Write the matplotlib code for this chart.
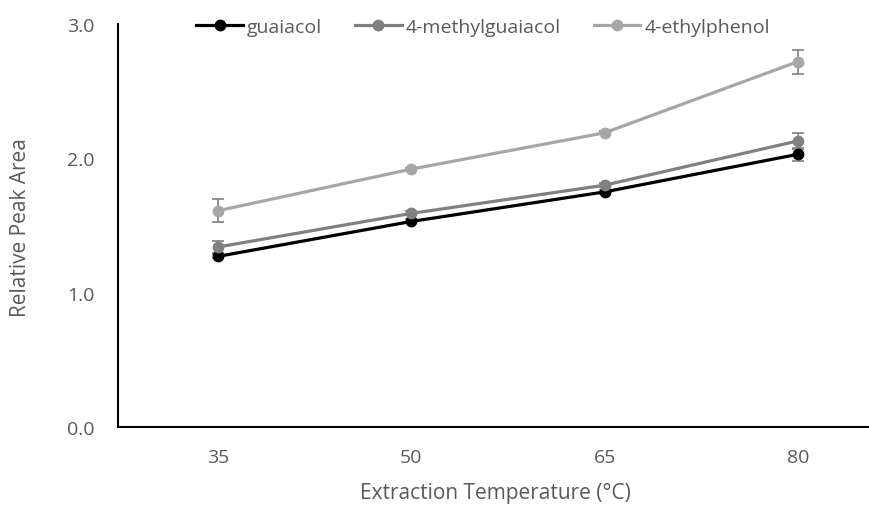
import matplotlib
matplotlib.use("Agg")
import matplotlib.pyplot as plt

categories = ["35", "50", "65", "80"]
series_names = ["guaiacol", "4-methylguaiacol", "4-ethylphenol"]
guaiacol = [1.27, 1.53, 1.75, 2.03]
guaiacol_err = [0.015, 0.015, 0.015, 0.05]
methylguaiacol = [1.34, 1.59, 1.80, 2.13]
methylguaiacol_err = [0.045, 0.015, 0.015, 0.06]
ethylphenol = [1.61, 1.92, 2.19, 2.72]
ethylphenol_err = [0.085, 0.01, 0.01, 0.09]
y_ticks = [0.0, 1.0, 2.0, 3.0]

colors = ["#000000", "#808080", "#A6A6A6"]
text_color = "#595959"
plt.rcParams["font.family"] = ["Open Sans", "DejaVu Sans"]

fig = plt.figure(figsize=(8.69, 5.06), dpi=100)
W, H = 869, 506
left, right_px, top, bottom = 118, 869, 25, 428
ax = fig.add_axes([left / W, 1 - bottom / H, (right_px - left) / W, (bottom - top) / H])

x = list(range(len(categories)))
for vals, errs, name, c in zip([guaiacol, methylguaiacol, ethylphenol],
                               [guaiacol_err, methylguaiacol_err, ethylphenol_err],
                               series_names, colors):
    ax.errorbar(x, vals, yerr=errs, color=c, ecolor="#7f7f7f", elinewidth=1.2,
                capsize=4.5, capthick=1.2, lw=2.3, marker="o", markersize=7.5,
                label=name, zorder=3)

ax.set_xlim(-0.5173, 3.3678)
ax.set_ylim(0, 3.0)
ax.set_yticks(y_ticks)
ax.set_yticklabels([f"{v:.1f}" for v in y_ticks])
ax.set_xticks(x)
ax.set_xticklabels(categories)
ax.tick_params(axis="both", length=0, labelsize=14, labelcolor=text_color)
ax.tick_params(axis="y", pad=17)
ax.tick_params(axis="x", pad=15)
for s in ["top", "right"]:
    ax.spines[s].set_visible(False)
for s in ["left", "bottom"]:
    ax.spines[s].set_linewidth(1.5)
    ax.spines[s].set_color("black")

ax.set_xlabel("Extraction Temperature (°C)", fontsize=15, color=text_color)
ax.set_ylabel("Relative Peak Area", fontsize=15, color=text_color)
ax.xaxis.set_label_coords((495 - left) / (right_px - left), -(494 - bottom) / (bottom - top))
ax.yaxis.set_label_coords(-(118 - 21) / (right_px - left), 0.5 - (228 - 226.5) / (bottom - top))
ax.yaxis.label.set_va("center")
ax.xaxis.label.set_va("center")

handles, labels = ax.get_legend_handles_labels()
handles = [h[0] if isinstance(h, tuple) else h for h in handles]
leg = fig.legend(handles, labels, loc="center", bbox_to_anchor=(483 / W, 1 - 28 / H),
                 ncol=3, frameon=False, fontsize=14, handlelength=2.4,
                 columnspacing=1.7, handletextpad=0.2)
for t in leg.get_texts():
    t.set_color(text_color)

fig.savefig("out.png", dpi=100)
